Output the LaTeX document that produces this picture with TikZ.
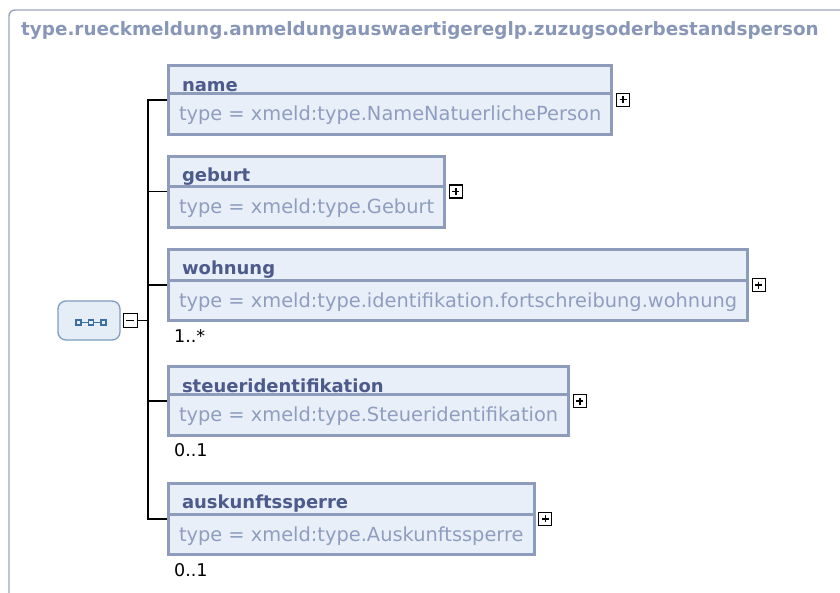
\documentclass[tikz,border=0pt]{standalone}
\usepackage{fontspec}
\setmainfont{DejaVu Sans}
\usetikzlibrary{positioning,shapes.multipart}
\definecolor{xsframe}{RGB}{154,166,190}
\definecolor{xscaption}{RGB}{136,151,184}
\definecolor{xsborder}{RGB}{142,156,187}
\definecolor{xsfill}{RGB}{233,239,248}
\definecolor{xshead}{RGB}{76,91,140}
\definecolor{xstype}{RGB}{143,158,192}
\definecolor{xsrootborder}{RGB}{125,158,192}
\definecolor{xsrootfill}{RGB}{229,237,247}
\definecolor{xsicon}{RGB}{61,111,160}
\newcommand{\xshead}[1]{{\color{xshead}\bfseries\fontsize{18}{20}\selectfont\hspace*{3pt}#1\rule[-1pt]{0pt}{25pt}}}
\newcommand{\xstype}[1]{{\color{xstype}#1\rule[-12pt]{0pt}{37.5pt}}}
\tikzset{
  xsframe/.style={draw=xsframe, line width=1.4pt, rounded corners=6pt},
  xscaption/.style={inner sep=0pt, text=xscaption, font=\bfseries\fontsize{18.35}{20}\selectfont},
  xsbox/.style={
    rectangle split,
    rectangle split parts=2,
    rectangle split part align=left,
    draw=xsborder,
    fill=xsfill,
    line width=3pt,
    inner xsep=10.5pt,
    inner ysep=0pt,
    anchor=north west,
    font=\fontsize{19.4}{22}\selectfont
  },
  xsmult/.style={inner sep=0pt, font=\fontsize{17.5}{20}\selectfont},
  xsplus/.style={
    draw=black, fill=white, line width=1.4pt, minimum size=13pt, inner sep=0pt,
    path picture={
      \draw[line width=1.3pt] ([xshift=-3.5pt]path picture bounding box.center) -- ([xshift=3.5pt]path picture bounding box.center)
        ([yshift=-3.5pt]path picture bounding box.center) -- ([yshift=3.5pt]path picture bounding box.center);
    }
  },
  xsminus/.style={
    draw=black, fill=white, line width=1.4pt, minimum size=14pt, inner sep=0pt,
    path picture={
      \draw[line width=1.3pt] ([xshift=-4pt]path picture bounding box.center) -- ([xshift=4pt]path picture bounding box.center);
    }
  },
  xsroot/.style={draw=xsrootborder, fill=xsrootfill, rounded corners=8pt, line width=1.3pt,
    minimum width=62pt, minimum height=39pt, inner sep=0pt},
  xswire/.style={draw=black, line width=1.5pt}
}
\begin{document}
\begin{tikzpicture}[x=1pt,y=-1pt]
\clip (0,0) rectangle (840,592);
\fill[white] (0,0) rectangle (840,592);
\draw[xsframe] (9,620) -- (9,10) -- (870,10);
\node[xscaption, anchor=base west] (caption) at (21,35) {type.rueckmeldung.anmeldungauswaertigereglp.zuzugsoderbestandsperson};

% root sequence
\node[xsroot] (root) at (89,320.5) {};
\draw[xsicon, line width=1.2pt] ([xshift=-10.5pt,yshift=-2pt]root.center) -- ([xshift=14.5pt,yshift=-2pt]root.center);
\foreach \dx in {-10.5,2,14.5}
  \draw[xsicon, fill=xsrootfill, line width=1.5pt] ([xshift=\dx pt-2.5pt,yshift=-4.5pt]root.center) rectangle ([xshift=\dx pt+2.5pt,yshift=0.5pt]root.center);
\node[xsminus, right=2pt of root] (rootminus) {};
\coordinate (bus) at (148,320.5);

% child elements
\node[xsbox] (name) at (167,64) {\xshead{name}\nodepart{two}\xstype{type = xmeld:type.NameNatuerlichePerson}};
\node[xsbox, below right=19pt and 0pt of name.south west] (geburt) {\xshead{geburt}\nodepart{two}\xstype{type = xmeld:type.Geburt}};
\node[xsbox, below right=19pt and 0pt of geburt.south west] (wohnung) {\xshead{wohnung}\nodepart{two}\xstype{type = xmeld:type.identifikation.fortschreibung.wohnung}};
\node[xsbox, below right=43pt and 0pt of wohnung.south west] (steuer) {\xshead{steueridentifikation}\nodepart{two}\xstype{type = xmeld:type.Steueridentifikation}};
\node[xsbox, below right=45pt and 0pt of steuer.south west] (sperre) {\xshead{auskunftssperre}\nodepart{two}\xstype{type = xmeld:type.Auskunftssperre}};

\node[xsmult, below right=7pt and 7pt of wohnung.south west] (wohnungmult) {1..*};
\node[xsmult, below right=7pt and 7pt of steuer.south west] (steuermult) {0..1};
\node[xsmult, below right=7pt and 7pt of sperre.south west] (sperremult) {0..1};

\foreach \n in {name,geburt,wohnung,steuer,sperre}
  \node[xsplus, right=2.5pt of \n.east] (\n plus) {};

% connectors
\draw[xswire] (rootminus) -- (bus);
\draw[xswire] (name.west) -| (bus) |- (sperre.west);
\foreach \n in {geburt,wohnung,steuer}
  \draw[xswire] (\n.west) -- (\n.west -| bus);
\end{tikzpicture}
\end{document}
